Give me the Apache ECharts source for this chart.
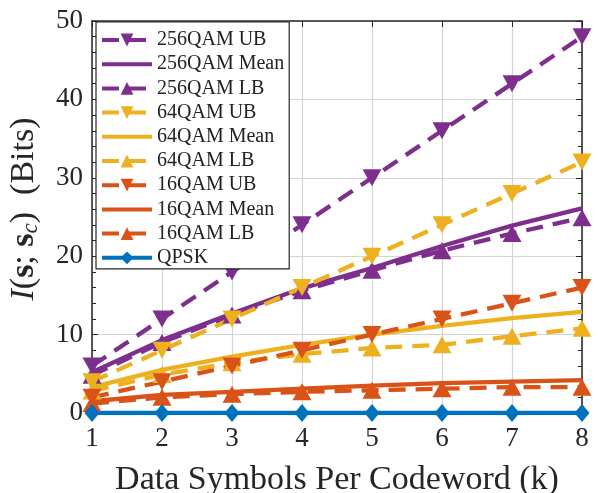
<!DOCTYPE html>
<html><head><meta charset="utf-8">
<script src="https://cdn.jsdelivr.net/npm/echarts@6/dist/echarts.min.js"></script>
<style>html,body{margin:0;padding:0;background:#fff}#c{width:598px;height:493px}</style>
</head><body><div id="c"></div>
<script>
const k = [1,2,3,4,5,6,7,8];
const qam256UB = [6,12,18,24,30,36,42,48];
const qam256Mean = [5.2,9.3,12.7,15.9,18.5,21.3,23.9,26.1];
const qam256LB = [4.8,9.0,12.5,15.6,18.2,20.7,22.9,24.9];
const qam64UB = [4,8,12,16,20,24,28,32];
const qam64Mean = [3.3,5.5,7.2,8.7,10.0,11.1,12.1,12.9];
const qam64LB = [2.8,4.9,6.4,7.5,8.3,8.7,9.8,10.8];
const qam16UB = [2,4,6,8,10,12,14,16];
const qam16Mean = [1.5,2.3,2.7,3.1,3.5,3.8,4.0,4.2];
const qam16LB = [1.2,2.0,2.4,2.7,2.9,3.1,3.3,3.3];
const qpsk = [0,0,0,0,0,0,0,0];

const PURPLE='#7E2F8E', YELLOW='#EDB120', ORANGE='#D95319', BLUE='#0072BD';
const FONT='Liberation Serif';
const DASH=[17,10];
const pts = arr => arr.map((v,i)=>[k[i], v]);
function s(name, data, color, kind){
  const o = {name, type:'line', data:pts(data), color,
    lineStyle:{width:4.3, color, type:'solid'}, itemStyle:{color},
    symbol:'none', symbolSize:[19,17], animation:false};
  if(kind==='UB'){o.symbol='triangle'; o.symbolRotate=180; o.lineStyle.type=DASH;}
  if(kind==='LB'){o.symbol='triangle'; o.lineStyle.type=DASH;}
  if(kind==='D'){o.symbol='diamond'; o.symbolSize=[15,18];}
  return o;
}
const series = [
  s('256QAM UB', qam256UB, PURPLE, 'UB'),
  s('256QAM Mean', qam256Mean, PURPLE, 'Mean'),
  s('256QAM LB', qam256LB, PURPLE, 'LB'),
  s('64QAM UB', qam64UB, YELLOW, 'UB'),
  s('64QAM Mean', qam64Mean, YELLOW, 'Mean'),
  s('64QAM LB', qam64LB, YELLOW, 'LB'),
  s('16QAM UB', qam16UB, ORANGE, 'UB'),
  s('16QAM Mean', qam16Mean, ORANGE, 'Mean'),
  s('16QAM LB', qam16LB, ORANGE, 'LB'),
  s('QPSK', qpsk, BLUE, 'D')
];
const legendData = series.map(x => x.symbol==='none'
  ? {name:x.name, itemStyle:{opacity:0}}
  : {name:x.name});
const axLine = {show:true, onZero:false, lineStyle:{color:'#262626', width:1.5}};
const tick = {show:true, inside:true, length:6, lineStyle:{color:'#262626'}};
const chart = echarts.init(document.getElementById('c'), null, {renderer:'canvas'});
chart.setOption({
  animation:false,
  backgroundColor:'#fff',
  grid:{left:92, right:16, top:21, bottom:80, containLabel:false, outerBoundsMode:'none'},
  legend:{
    orient:'vertical', left:96, top:22, itemWidth:50, itemHeight:16, itemGap:4.2,
    backgroundColor:'#fff', borderColor:'#262626', borderWidth:1.2, padding:[8,5,1,4],
    lineStyle:{width:4},
    textStyle:{fontFamily:FONT, fontSize:20, lineHeight:20, color:'#222'},
    data: legendData
  },
  xAxis:[{
    type:'value', min:1, max:8, interval:1, position:'bottom',
    name:'Data Symbols Per Codeword (k)', nameLocation:'middle', nameGap:50,
    nameTextStyle:{fontFamily:FONT, fontSize:34, color:'#262626'},
    axisLine:axLine, axisTick:tick,
    axisLabel:{fontFamily:FONT, fontSize:27, color:'#262626', margin:12},
    splitLine:{show:true, lineStyle:{color:'#d4d4d4', width:1.2}}
  },{
    type:'value', min:1, max:8, interval:1, position:'top',
    axisLine:axLine, axisTick:tick,
    axisLabel:{show:false}, splitLine:{show:false}
  }],
  yAxis:[{
    type:'value', min:0, max:50, interval:10, position:'left',
    name:'{i|I}{n|(}{b|s}{n|; }{b|s}{sub|c}{n|)  (Bits)}', nameLocation:'middle', nameGap:50,
    nameTextStyle:{fontFamily:FONT, fontSize:34, color:'#262626', padding:[0,0,0,16],
      rich:{
        i:{fontFamily:FONT, fontSize:34, fontStyle:'italic', color:'#262626'},
        n:{fontFamily:FONT, fontSize:34, color:'#262626'},
        b:{fontFamily:FONT, fontSize:34, fontWeight:'bold', color:'#262626'},
        sub:{fontFamily:FONT, fontSize:23, fontStyle:'italic', color:'#262626', padding:[13,0,0,0]}
      }},
    axisLine:axLine, axisTick:tick,
    minorTick:{show:true, splitNumber:5, length:4, lineStyle:{color:'#262626'}},
    axisLabel:{fontFamily:FONT, fontSize:27, color:'#262626', margin:9},
    splitLine:{show:true, lineStyle:{color:'#d4d4d4', width:1.2}}
  },{
    type:'value', min:0, max:50, interval:10, position:'right',
    axisLine:axLine, axisTick:tick,
    minorTick:{show:true, splitNumber:5, length:4, lineStyle:{color:'#262626'}},
    axisLabel:{show:false}, splitLine:{show:false}
  }],
  series: series
});
</script></body></html>
